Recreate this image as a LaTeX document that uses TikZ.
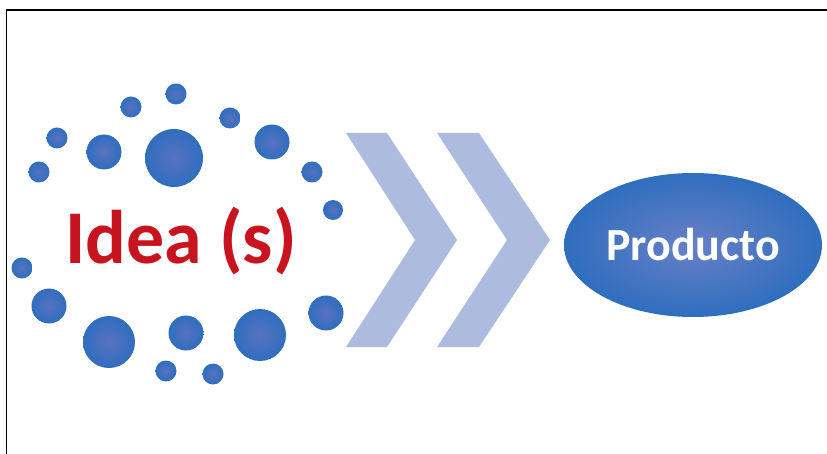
\documentclass[tikz,border=0pt]{standalone}
\usepackage{fontspec}
\setmainfont{Carlito}
\usepackage{xcolor}
\usetikzlibrary{shapes, positioning}
\definecolor{dotblue}{RGB}{47, 110, 190}
\definecolor{dotcore}{RGB}{88, 114, 192}
\definecolor{ideared}{RGB}{200, 20, 30}
\definecolor{chevron}{RGB}{173, 187, 223}

\begin{document}
\begin{tikzpicture}[x=1pt, y=-1pt,
    dot/.style={circle, inner sep=0pt, shade, inner color=dotcore, outer color=dotblue},
    chev/.style={fill=chevron}]
    \useasboundingbox (0,0) rectangle (827,454);
    % frame, top and left only
    \draw[line width=1.4pt] (6.5,454) -- (6.5,10) -- (827,10);

    % ring of dots round the idea
    \foreach \x/\y/\r [count=\i] in {
        176/94/10.5, 131/107/10.5, 230/118/10.5, 57/138/10.5,
        104/152/17.5, 174/158/29, 272/142/17.5, 39/172/10.5,
        312/172/10.5, 333/210/10, 22/268/10.5, 49/306/17.5,
        326/313/17.5, 109/342/26, 186/333/17.5, 260/335/26,
        166/371/10.5, 213/374/10.5}
        \node[dot, minimum size=2*\r] (d\i) at (\x,\y) {};

    \node[anchor=base, text=ideared, font=\bfseries\fontsize{76}{80}\selectfont]
        (idea) at (181,264) {Idea (s)};

    % chevrons
    \fill[chev] (346,133) -- (387,133) -- (457,240) -- (387,347) -- (346,347) -- (415,240) -- cycle;
    \fill[chev] (437,133) -- (479,133) -- (550,240) -- (479,347) -- (437,347) -- (507,240) -- cycle;

    % product
    \node[ellipse, minimum width=258, minimum height=144, inner sep=0pt,
          shade, inner color=dotcore!90!white, outer color=dotblue,
          text=white, font=\bfseries\fontsize{46}{50}\selectfont]
        (prod) at (693,245) {Producto};
\end{tikzpicture}
\end{document}
